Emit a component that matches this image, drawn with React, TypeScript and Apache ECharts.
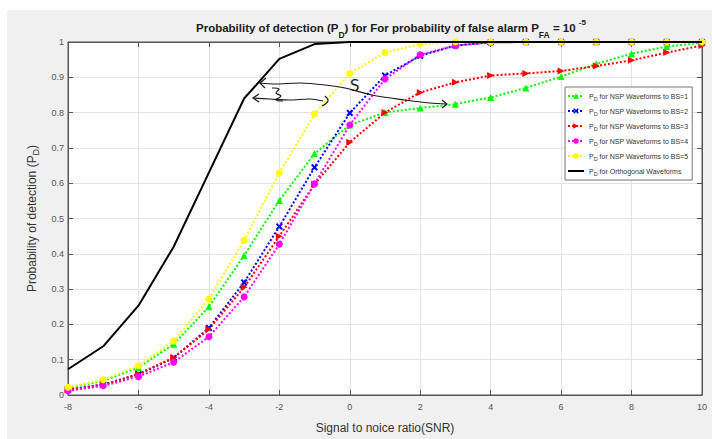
import React, { useEffect, useRef } from "react";
import * as echarts from "echarts";

const snr = [-8, -7, -6, -5, -4, -3, -2, -1, 0, 1, 2, 3, 4, 5, 6, 7, 8, 9, 10];
const bs1 = [0.02, 0.04, 0.078, 0.144, 0.25, 0.395, 0.551, 0.684, 0.765, 0.8, 0.813, 0.824, 0.843, 0.87, 0.902, 0.938, 0.967, 0.987, 0.998];
const bs2 = [0.015, 0.03, 0.058, 0.105, 0.19, 0.319, 0.477, 0.645, 0.799, 0.905, 0.961, 0.99, 0.999, 1, 1, 1, 1, 1, 1];
const bs3 = [0.015, 0.028, 0.06, 0.106, 0.186, 0.305, 0.45, 0.597, 0.716, 0.8, 0.857, 0.886, 0.905, 0.911, 0.918, 0.932, 0.948, 0.97, 0.99];
const bs4 = [0.012, 0.026, 0.052, 0.093, 0.165, 0.278, 0.427, 0.598, 0.765, 0.895, 0.964, 0.99, 0.999, 1, 1, 1, 1, 1, 1];
const bs5 = [0.022, 0.043, 0.083, 0.153, 0.272, 0.438, 0.629, 0.796, 0.911, 0.97, 0.994, 1, 1, 1, 1, 1, 1, 1, 1];
const orth = [0.073, 0.138, 0.253, 0.42, 0.63, 0.84, 0.952, 0.994, 1, 1, 1, 1, 1, 1, 1, 1, 1, 1, 1];
const seriesNames = [
  "PD for NSP Waveforms to BS=1",
  "PD for NSP Waveforms to BS=2",
  "PD for NSP Waveforms to BS=3",
  "PD for NSP Waveforms to BS=4",
  "PD for NSP Waveforms to BS=5",
  "PD for Orthogonal Waveforms",
];
const colors = ["#00ff00", "#0000ff", "#ff0000", "#ff00ff", "#ffff00", "#000000"];
const symbols = [
  "triangle",
  "path://M2,0 L5,3 L8,0 L10,2 L7,5 L10,8 L8,10 L5,7 L2,10 L0,8 L3,5 L0,2 Z",
  "path://M0,0 L10,5 L0,10 Z",
  "circle",
  "circle",
  "none",
];

const pair = (ys: number[]) => snr.map((x, i) => [x, ys[i]]);

export default function App() {
  const ref = useRef<HTMLDivElement>(null);
  useEffect(() => {
    if (!ref.current) return;
    const chart = echarts.init(ref.current, null, { renderer: "svg" });
    const all = [bs1, bs2, bs3, bs4, bs5, orth];
    const series: any[] = all.map((ys, i) => ({
      type: "line",
      name: seriesNames[i],
      data: pair(ys),
      symbol: symbols[i],
      symbolSize: 7,
      lineStyle: { color: colors[i], width: 2, type: i === 5 ? "solid" : "dotted" },
      itemStyle: { color: colors[i] },
      z: i === 5 ? 3 : 2,
    }));
    const stroke = { stroke: "#1a1a1a", lineWidth: 1.2, fill: "none" };
    const axisBase = {
      axisLine: { show: true, onZero: false, lineStyle: { color: "#555" } },
      axisTick: { show: true, inside: true, length: 5, lineStyle: { color: "#555" } },
    };
    const legendData: any[] = seriesNames.map((n, i) =>
      i === 5 ? { name: n, icon: "path://M0,0 L16,0 L16,2 L0,2 Z" } : { name: n }
    );
    const option: any = {
      animation: false,
      backgroundColor: "#f0f0f0",
      title: {
        text: "{b|Probability of detection (P}{sub|D}{b|) for For probability of false alarm P}{sub|FA}{b| = 10 }{sup|-5}",
        left: 191,
        top: 14,
        textStyle: {
          rich: {
            b: { fontSize: 11.5, fontWeight: "bold", color: "#1a1a1a", fontFamily: "Liberation Sans", lineHeight: 18 },
            sub: { fontSize: 8.5, fontWeight: "bold", color: "#1a1a1a", fontFamily: "Liberation Sans", lineHeight: 9, padding: [13, 0, 0, 0] },
            sup: { fontSize: 8, fontWeight: "bold", color: "#1a1a1a", fontFamily: "Liberation Sans", lineHeight: 8, padding: [0, 0, 12, 0] },
          },
        },
      },
      grid: {
        left: 68,
        right: 10,
        top: 42,
        bottom: 34,
        show: true,
        backgroundColor: "#ffffff",
        borderColor: "#555",
        borderWidth: 1,
      },
      legend: {
        orient: "vertical",
        left: 565,
        top: 87,
        backgroundColor: "#ffffff",
        borderColor: "#777",
        borderWidth: 1,
        padding: [3, 4, 3, 2],
        itemGap: 3,
        itemWidth: 16,
        itemHeight: 7,
        data: legendData,
        formatter: (name: string) => "{n|P}{s|D}{n|" + name.slice(2) + "}",
        textStyle: {
          rich: {
            n: { fontSize: 7, color: "#333", fontFamily: "Liberation Sans", lineHeight: 10 },
            s: { fontSize: 5.5, color: "#333", fontFamily: "Liberation Sans", lineHeight: 6, padding: [6, 0, 0, 0] },
          },
        },
      },
      xAxis: [
        {
          type: "value",
          min: -8,
          max: 10,
          interval: 2,
          name: "Signal to noice ratio(SNR)",
          nameLocation: "middle",
          nameGap: 27,
          nameTextStyle: { fontSize: 12, color: "#333", fontFamily: "Liberation Sans" },
          ...axisBase,
          axisLabel: { fontSize: 9, color: "#555", margin: 7, fontFamily: "Liberation Sans" },
          splitLine: { show: true, lineStyle: { color: "#e3e3e3" } },
        },
        {
          type: "value",
          min: -8,
          max: 10,
          interval: 2,
          position: "top",
          ...axisBase,
          axisLabel: { show: false },
          splitLine: { show: false },
        },
      ],
      yAxis: [
        {
          type: "value",
          min: 0,
          max: 1,
          interval: 0.1,
          name: "{a|Probability of detection (P}{s|D}{a|)}",
          nameLocation: "middle",
          nameGap: 18,
          nameTextStyle: {
            rich: {
              a: { fontSize: 12, color: "#333", fontFamily: "Liberation Sans", lineHeight: 16 },
              s: { fontSize: 9, color: "#333", fontFamily: "Liberation Sans", lineHeight: 9, padding: [9, 0, 0, 0] },
            },
          },
          ...axisBase,
          axisLabel: { fontSize: 9, color: "#555", margin: 4, fontFamily: "Liberation Sans" },
          splitLine: { show: true, lineStyle: { color: "#e3e3e3" } },
        },
        {
          type: "value",
          min: 0,
          max: 1,
          interval: 0.1,
          position: "right",
          ...axisBase,
          axisLabel: { show: false },
          splitLine: { show: false },
        },
      ],
      series,
      graphic: [
        { type: "rect", z: -10, silent: true, shape: { x: 0, y: 0, width: 712, height: 10 }, style: { fill: "#ffffff" } },
        { type: "rect", z: -10, silent: true, shape: { x: 0, y: 0, width: 7, height: 439 }, style: { fill: "#ffffff" } },
        { type: "polyline", z: 100, shape: { points: [[260, 83], [275, 84], [300, 83], [325, 85], [345, 88], [372, 95], [405, 100], [430, 103], [447, 104]], smooth: 0.3 }, style: stroke },
        { type: "polyline", z: 100, shape: { points: [[266, 78], [260, 83], [265, 88]] }, style: stroke },
        { type: "polyline", z: 100, shape: { points: [[442, 100], [447, 104], [442, 108]] }, style: stroke },
        { type: "polyline", z: 100, shape: { points: [[272, 88], [279, 89], [276, 93], [281, 96], [276, 100], [283, 101]], smooth: 0.4 }, style: stroke },
        { type: "polyline", z: 100, shape: { points: [[253, 98], [270, 99], [290, 100], [310, 99], [323, 101]], smooth: 0.3 }, style: stroke },
        { type: "polyline", z: 100, shape: { points: [[259, 94], [253, 98], [259, 102]] }, style: stroke },
        { type: "polyline", z: 100, shape: { points: [[325, 96], [328, 101], [322, 106]], smooth: 0.4 }, style: stroke },
        { type: "text", z: 100, left: 350, top: 78, style: { text: "S", fontSize: 15, fontFamily: "DejaVu Sans", fill: "#1a1a1a" } },
      ],
    };
    chart.setOption(option);
    return () => chart.dispose();
  }, []);
  return (
    <div
      ref={ref}
      style={{ position: "fixed", left: 0, top: 0, width: 712, height: 439 }}
    />
  );
}
